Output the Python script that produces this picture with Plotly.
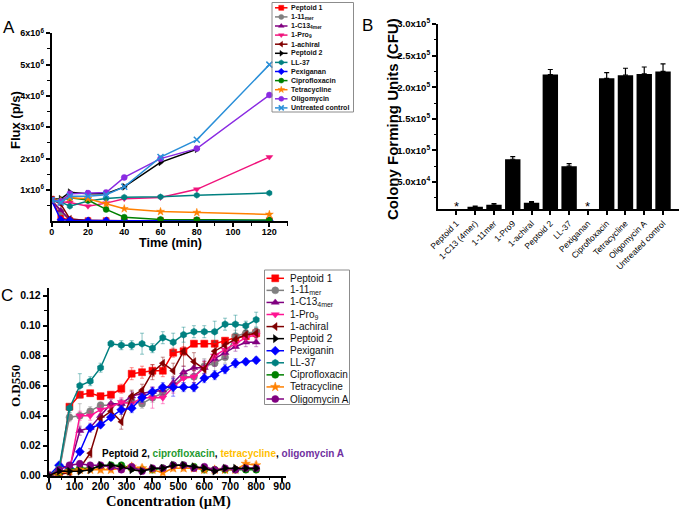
import plotly.graph_objects as go

W, H = 685, 515

# ---------------- Panel A data: bioluminescence flux (p/s) ----------------
time_min = [0, 5, 10, 20, 30, 40, 60, 80, 120]
flux_peptoid1 = [0.70e6, 0.12e6, 0.03e6, 0.02e6, 0.02e6, 0.02e6, 0.02e6, 0.02e6, 0.02e6]
flux_11mer = [0.68e6, 0.30e6, 0.04e6, 0.02e6, 0.02e6, 0.02e6, 0.02e6, 0.02e6, 0.02e6]
flux_c13 = [0.66e6, 0.35e6, 0.05e6, 0.02e6, 0.02e6, 0.02e6, 0.02e6, 0.02e6, 0.02e6]
flux_pro9 = [0.68e6, 0.62e6, 0.60e6, 0.48e6, 0.58e6, 0.72e6, 0.76e6, 1.02e6, 2.05e6]
flux_achiral = [0.70e6, 0.55e6, 0.08e6, 0.02e6, 0.02e6, 0.02e6, 0.02e6, 0.02e6, 0.02e6]
flux_peptoid2 = [0.70e6, 0.72e6, 0.93e6, 0.88e6, 0.88e6, 1.10e6, 1.88e6, 2.30e6, None]
flux_ll37 = [0.65e6, 0.62e6, 0.48e6, 0.65e6, 0.73e6, 0.77e6, 0.78e6, 0.83e6, 0.90e6]
flux_pexiganan = [0.66e6, 0.05e6, 0.03e6, 0.02e6, 0.02e6, 0.02e6, 0.02e6, 0.02e6, 0.02e6]
flux_cipro = [0.68e6, 0.65e6, 0.75e6, 0.68e6, 0.38e6, 0.13e6, 0.06e6, 0.05e6, 0.04e6]
flux_tetra = [0.68e6, 0.66e6, 0.75e6, 0.72e6, 0.56e6, 0.40e6, 0.31e6, 0.28e6, 0.22e6]
flux_oligo = [0.68e6, 0.64e6, 0.88e6, 0.90e6, 0.92e6, 1.40e6, 2.00e6, 2.32e6, 4.03e6]
flux_untreated = [0.68e6, 0.60e6, 0.80e6, 0.80e6, 0.85e6, 1.10e6, 2.05e6, 2.60e6, 5.00e6]
a_xticks = [0, 20, 40, 60, 80, 100, 120]
a_yticks = [1e6, 2e6, 3e6, 4e6, 5e6, 6e6]
a_yticktext = ["1x10<sup>6</sup>", "2x10<sup>6</sup>", "3x10<sup>6</sup>",
               "4x10<sup>6</sup>", "5x10<sup>6</sup>", "6x10<sup>6</sup>"]

# ---------------- Panel B data: colony forming units ----------------
cfu_labels = ["Peptoid 1", "1-C13 (4mer)", "1-11mer", "1-Pro9", "1-achiral", "Peptoid 2",
              "LL-37", "Pexiganan", "Ciprofloxacin", "Tetracycline", "Oligomycin A",
              "Untreated control"]
cfu_values = [0, 10900, 14000, 86000, 17000, 220000, 75000, 0, 214000, 219000, 221000, 225000]
cfu_err = [0, 1000, 2000, 4000, 2000, 8000, 4000, 0, 9000, 11000, 11000, 12000]
cfu_star = ["Peptoid 1", "Pexiganan"]
b_yticks = [5e4, 1e5, 1.5e5, 2e5, 2.5e5, 3e5]
b_yticktext = ["5.0x10<sup>4</sup>", "1.0x10<sup>5</sup>", "1.5x10<sup>5</sup>",
               "2.0x10<sup>5</sup>", "2.5x10<sup>5</sup>", "3.0x10<sup>5</sup>"]

# ---------------- Panel C data: O.D550 vs concentration ----------------
conc_uM = [0, 40, 80, 120, 160, 200, 240, 280, 320, 360, 400, 440, 480, 520, 560, 600, 640, 680, 720, 760, 800]
od_peptoid1 = [0, 0.002, 0.046, 0.054, 0.055, 0.053, 0.054, 0.058, 0.068, 0.069, 0.070, 0.070, 0.082, 0.083, 0.088, 0.088, 0.088, 0.090, 0.092, 0.093, 0.095]
od_11mer = [0, 0.003, 0.039, 0.040, 0.043, 0.047, 0.047, 0.048, 0.050, 0.048, 0.052, 0.055, 0.060, 0.066, 0.066, 0.073, 0.075, 0.079, 0.093, 0.095, 0.096]
od_c13 = [0, 0.002, 0.005, 0.030, 0.032, 0.040, 0.048, 0.048, 0.053, 0.055, 0.056, 0.057, 0.062, 0.069, 0.072, 0.072, 0.078, 0.082, 0.086, 0.089, 0.089]
od_pro9 = [0, 0.002, 0.003, 0.040, 0.040, 0.044, 0.046, 0.049, 0.048, 0.052, 0.052, 0.052, 0.059, 0.065, 0.066, 0.072, 0.080, 0.084, 0.088, 0.092, 0.094]
od_achiral = [0, 0.001, 0.002, 0.005, 0.015, 0.038, 0.043, 0.036, 0.053, 0.057, 0.069, 0.075, 0.070, 0.083, 0.076, 0.071, 0.083, 0.087, 0.091, 0.094, 0.095]
od_peptoid2 = [0, 0.003, 0.003, 0.003, 0.004, 0.007, 0.007, 0.006, 0.004, 0.003, 0.005, 0.005, 0.007, 0.007, 0.006, 0.005, 0.003, 0.005, 0.005, 0.005, 0.005]
od_pexiganin = [0, 0.007, 0.005, 0.016, 0.032, 0.034, 0.039, 0.044, 0.045, 0.052, 0.056, 0.059, 0.059, 0.059, 0.059, 0.065, 0.067, 0.071, 0.075, 0.076, 0.077]
od_ll37 = [0, 0.005, 0.045, 0.060, 0.063, 0.072, 0.088, 0.087, 0.087, 0.088, 0.085, 0.092, 0.089, 0.094, 0.096, 0.096, 0.096, 0.101, 0.101, 0.100, 0.104]
od_cipro = [0, 0.002, 0.004, 0.005, 0.005, 0.006, 0.007, 0.007, 0.005, 0.004, 0.004, 0.005, 0.007, 0.007, 0.006, 0.004, 0.004, 0.004, 0.004, 0.004, 0.004]
od_tetra = [0, 0.002, 0.003, 0.004, 0.004, 0.004, 0.004, 0.005, 0.006, 0.005, 0.004, 0.002, 0.005, 0.005, 0.005, 0.004, 0.004, 0.004, 0.004, 0.008, 0.007]
od_oligo = [0, 0.004, 0.007, 0.008, 0.007, 0.007, 0.006, 0.004, 0.006, 0.003, 0.005, 0.005, 0.007, 0.007, 0.005, 0.006, 0.004, 0.005, 0.004, 0.005, 0.005]

err_peptoid1 = [0, 0.001, 0.002, 0.002, 0.002, 0.002, 0.002, 0.003, 0.004, 0.004, 0.004, 0.004, 0.003, 0.003, 0.002, 0.002, 0.002, 0.002, 0.002, 0.002, 0.002]
err_11mer = [0, 0.001, 0.003, 0.008, 0.003, 0.002, 0.002, 0.003, 0.003, 0.003, 0.003, 0.004, 0.004, 0.004, 0.004, 0.005, 0.006, 0.004, 0.004, 0.003, 0.003]
err_c13 = [0, 0.001, 0.002, 0.003, 0.003, 0.003, 0.003, 0.003, 0.003, 0.003, 0.003, 0.003, 0.004, 0.004, 0.004, 0.005, 0.005, 0.004, 0.003, 0.003, 0.003]
err_pro9 = [0, 0.001, 0.002, 0.003, 0.003, 0.003, 0.003, 0.003, 0.003, 0.004, 0.007, 0.004, 0.004, 0.004, 0.004, 0.004, 0.004, 0.004, 0.003, 0.003, 0.003]
err_achiral = [0, 0.001, 0.002, 0.002, 0.003, 0.003, 0.004, 0.005, 0.004, 0.004, 0.005, 0.004, 0.005, 0.010, 0.006, 0.005, 0.004, 0.004, 0.003, 0.003, 0.003]
err_peptoid2 = [0, 0.001, 0.001, 0.001, 0.001, 0.001, 0.001, 0.001, 0.001, 0.001, 0.001, 0.001, 0.001, 0.001, 0.001, 0.001, 0.001, 0.001, 0.001, 0.001, 0.001]
err_pexiganin = [0, 0.001, 0.002, 0.002, 0.002, 0.002, 0.002, 0.003, 0.003, 0.003, 0.003, 0.003, 0.006, 0.003, 0.003, 0.003, 0.003, 0.003, 0.003, 0.002, 0.002]
err_ll37 = [0, 0.001, 0.003, 0.008, 0.003, 0.003, 0.002, 0.003, 0.003, 0.007, 0.003, 0.004, 0.006, 0.005, 0.004, 0.004, 0.007, 0.004, 0.006, 0.003, 0.005]
err_cipro = [0, 0.001, 0.001, 0.002, 0.002, 0.001, 0.001, 0.001, 0.001, 0.001, 0.001, 0.001, 0.001, 0.001, 0.001, 0.001, 0.001, 0.001, 0.001, 0.001, 0.001]
err_tetra = [0, 0.001, 0.001, 0.001, 0.001, 0.002, 0.002, 0.002, 0.002, 0.002, 0.002, 0.002, 0.002, 0.002, 0.002, 0.002, 0.001, 0.001, 0.002, 0.002, 0.002]
err_oligo = [0, 0.001, 0.001, 0.002, 0.001, 0.001, 0.001, 0.001, 0.001, 0.001, 0.001, 0.001, 0.001, 0.001, 0.001, 0.001, 0.001, 0.001, 0.001, 0.001, 0.001]
c_xticks = [0, 100, 200, 300, 400, 500, 600, 700, 800, 900]
c_yticks = [0, 0.02, 0.04, 0.06, 0.08, 0.10, 0.12]

# ---------------- styles ----------------
SANS = "Liberation Sans, Arial, sans-serif"
SERIF = "Liberation Serif, Times New Roman, serif"

a_series = [
    ("Peptoid 1", flux_peptoid1, "#ff0000", "square"),
    ("1-11<sub>mer</sub>", flux_11mer, "#808080", "circle"),
    ("1-C13<sub>4mer</sub>", flux_c13, "#800080", "triangle-up"),
    ("1-Pro<sub>9</sub>", flux_pro9, "#f0147c", "triangle-down"),
    ("1-achiral", flux_achiral, "#800000", "triangle-left"),
    ("Peptoid 2", flux_peptoid2, "#000000", "triangle-right"),
    ("LL-37", flux_ll37, "#008080", "hexagon"),
    ("Pexiganan", flux_pexiganan, "#0000ff", "diamond"),
    ("Ciprofloxacin", flux_cipro, "#008000", "circle"),
    ("Tetracycline", flux_tetra, "#ff8000", "star"),
    ("Oligomycin", flux_oligo, "#8a2be2", "circle"),
    ("Untreated control", flux_untreated, "#2a8fd8", "x-thin"),
]

c_series = [
    ("Peptoid 1", od_peptoid1, err_peptoid1, "#ff0000", "square"),
    ("1-11<sub>mer</sub>", od_11mer, err_11mer, "#808080", "circle"),
    ("1-C13<sub>4mer</sub>", od_c13, err_c13, "#800080", "triangle-up"),
    ("1-Pro<sub>9</sub>", od_pro9, err_pro9, "#ff1493", "triangle-down"),
    ("1-achiral", od_achiral, err_achiral, "#800000", "triangle-left"),
    ("Peptoid 2", od_peptoid2, err_peptoid2, "#000000", "triangle-right"),
    ("Pexiganin", od_pexiganin, err_pexiganin, "#0000ff", "diamond"),
    ("LL-37", od_ll37, err_ll37, "#008080", "hexagon"),
    ("Ciprofloxacin", od_cipro, err_cipro, "#008000", "circle"),
    ("Tetracycline", od_tetra, err_tetra, "#ff8000", "star"),
    ("Oligomycin A", od_oligo, err_oligo, "#800080", "circle"),
]


def rgba(hx, a):
    hx = hx.lstrip("#")
    return "rgba(%d,%d,%d,%g)" % (int(hx[0:2], 16), int(hx[2:4], 16), int(hx[4:6], 16), a)


def marker_style(color, symbol, size):
    if symbol == "x-thin":
        return dict(symbol=symbol, size=size, color=color, line=dict(color=color, width=1.5))
    return dict(symbol=symbol, size=size, color=color, line=dict(color=color, width=0.5))


fig = go.Figure()

# Panel A traces
for name, vals, color, sym in a_series:
    fig.add_trace(go.Scatter(x=time_min, y=vals, mode="lines+markers", xaxis="x", yaxis="y",
                             line=dict(color=color, width=1.5), marker=marker_style(color, sym, 6),
                             showlegend=False, connectgaps=False))

# Panel B bars
fig.add_trace(go.Bar(x=cfu_labels, y=cfu_values, xaxis="x2", yaxis="y2", width=0.82,
                     marker=dict(color="black", line=dict(width=0)),
                     error_y=dict(type="data", array=cfu_err, arrayminus=[0] * len(cfu_err),
                                  symmetric=False, color="black", thickness=1.2, width=2.5),
                     showlegend=False))
for lab in cfu_star:
    fig.add_annotation(x=lab, y=12000, xref="x2", yref="y2", text="*", showarrow=False,
                       font=dict(family=SANS, size=13, color="black"), yanchor="middle")

# Panel C traces (Peptoid 2 drawn last so it sits on top of the low cluster)
c_order = [s for s in c_series if s[0] != "Peptoid 2"] + [s for s in c_series if s[0] == "Peptoid 2"]
for name, vals, errs, color, sym in c_order:
    fig.add_trace(go.Scatter(x=conc_uM, y=vals, mode="lines+markers", xaxis="x3", yaxis="y3",
                             line=dict(color=color, width=1.5), marker=marker_style(color, sym, 7),
                             error_y=dict(type="data", array=errs, color=rgba(color, 0.45),
                                          thickness=1, width=2),
                             showlegend=False))

# ---------------- legends (drawn manually on a pixel helper axis) ----------------
def draw_legend(entries, x_line0, x_line1, x_text, y0, dy, msize, fsize, weight, box):
    for i, ent in enumerate(entries):
        name, color, sym = ent
        y = y0 + i * dy
        fig.add_trace(go.Scatter(x=[x_line0, x_line1], y=[y, y], mode="lines", xaxis="x4", yaxis="y4",
                                 line=dict(color=color, width=1.5), showlegend=False, hoverinfo="skip"))
        fig.add_trace(go.Scatter(x=[(x_line0 + x_line1) / 2], y=[y], mode="markers", xaxis="x4", yaxis="y4",
                                 marker=marker_style(color, sym, msize), showlegend=False, hoverinfo="skip"))
        fig.add_annotation(x=x_text, y=y, xref="x4", yref="y4", text=name, showarrow=False,
                           xanchor="left", yanchor="middle",
                           font=dict(family=SANS, size=fsize, color="#111", weight=weight))
    fig.add_shape(type="rect", xref="x4", yref="y4", x0=box[0], x1=box[1], y0=box[2], y1=box[3],
                  line=dict(color="#8c8c8c", width=1))


draw_legend([(n, c, s) for n, _, c, s in a_series], 275, 287.5, 288.5, 7.8, 9.1, 5, 7, "bold",
            (272, 353.5, 2.5, 112))
draw_legend([(n, c, s) for n, _, _, c, s in c_series], 266.5, 284, 287.5, 278.3, 12.07, 7, 10, "normal",
            (264.5, 349.5, 270, 404.5))

# ---------------- text annotations (pixel coords) ----------------
def ptext(x, y, text, size, family=SANS, weight="normal", angle=0, xanchor="center", color="black"):
    fig.add_annotation(x=x, y=y, xref="x4", yref="y4", text=text, showarrow=False, textangle=angle,
                       xanchor=xanchor, yanchor="middle",
                       font=dict(family=family, size=size, color=color, weight=weight))


ptext(9, 27, "A", 17)
ptext(367, 25, "B", 17)
ptext(7, 295, "C", 17)
ptext(15, 120, "Flux (p/s)", 13, weight="bold", angle=-90)
ptext(170, 243, "Time (min)", 12.5, weight="bold")
ptext(392, 119, "Colony Forming Units (CFU)", 15, weight="bold", angle=-90)
ptext(15, 386, "O.D550", 13, family=SERIF, weight="bold", angle=-90)
ptext(168, 501, "Concentration (µM)", 14.5, family=SERIF, weight="bold")
ptext(223, 453,
      '<span style="color:#000000">Peptoid 2,</span> '
      '<span style="color:#1f9a2f">ciprofloxacin</span>, '
      '<span style="color:#ffc000">tetracycline</span>, '
      '<span style="color:#7030a0">oligomycin A</span>',
      10, family="Liberation Sans Narrow, Liberation Sans, Arial", weight="bold")

# ---------------- axes ----------------
axis_common = dict(showline=True, linecolor="black", linewidth=2, ticks="outside", ticklen=4,
                   tickwidth=1.5, tickcolor="black", showgrid=False, zeroline=False,
                   automargin=False, fixedrange=True)


def ax(**kw):
    d = dict(axis_common)
    d.update(kw)
    return d


fig.update_layout(
    width=W, height=H, margin=dict(l=0, r=0, t=0, b=0), template="none",
    paper_bgcolor="white", plot_bgcolor="rgba(0,0,0,0)",
    font=dict(family=SANS, color="black"), showlegend=False,
    xaxis=ax(domain=[51.7 / W, 287.5 / W], range=[0, 130], anchor="y", tickvals=a_xticks,
             tickfont=dict(size=9, weight="bold"), ticklabelstandoff=-3,
             minor=dict(tickvals=[10, 30, 50, 70, 90, 110, 130], ticklen=2.5, tickwidth=1.2,
                        tickcolor="black", ticks="outside", showgrid=False)),
    yaxis=ax(domain=[1 - 221.3 / H, 1 - 33.3 / H], range=[0, 6e6], anchor="x", tickvals=a_yticks,
             ticktext=a_yticktext, tickfont=dict(size=9, weight="bold"),
             minor=dict(tickvals=[0.5e6, 1.5e6, 2.5e6, 3.5e6, 4.5e6, 5.5e6], ticklen=2.5, tickwidth=1.2,
                        tickcolor="black", ticks="outside", showgrid=False)),
    xaxis2=ax(domain=[438 / W, 679 / W], type="category", range=[-0.98, 11.85], anchor="y2",
              tickangle=-45, tickfont=dict(size=8.5), ticklen=4),
    yaxis2=ax(domain=[1 - 209.3 / H, 1 - 24 / H], range=[6800, 3e5], anchor="x2", tickvals=b_yticks,
              ticktext=b_yticktext, tickfont=dict(size=9.5, weight="bold"),
              minor=dict(tickvals=[2.5e4, 7.5e4, 1.25e5, 1.75e5, 2.25e5, 2.75e5], ticklen=2.5, tickwidth=1.2,
                         tickcolor="black", ticks="outside", showgrid=False)),
    xaxis3=ax(domain=[48.7 / W, 286 / W], range=[0, 915], anchor="y3", tickvals=c_xticks,
              tickfont=dict(size=10.5, weight="bold"), ticklabelstandoff=-4,
              minor=dict(tickvals=[50, 150, 250, 350, 450, 550, 650, 750, 850], ticklen=2.5, tickwidth=1.2,
                         tickcolor="black", ticks="outside", showgrid=False)),
    yaxis3=ax(domain=[1 - 475.7 / H, 1 - 288.2 / H], range=[0, 0.125], anchor="x3", tickvals=c_yticks,
              tickformat=".2f", tickfont=dict(size=10.5, weight="bold"),
              minor=dict(tickvals=[0.01, 0.03, 0.05, 0.07, 0.09, 0.11], ticklen=2.5, tickwidth=1.2,
                         tickcolor="black", ticks="outside", showgrid=False)),
    xaxis4=dict(domain=[0, 1], range=[0, W], visible=False, anchor="y4", fixedrange=True),
    yaxis4=dict(domain=[0, 1], range=[H, 0], visible=False, anchor="x4", fixedrange=True),
)

fig.write_html("out.html", config={"displayModeBar": False},
               post_script="document.body.style.margin='0';document.body.style.padding='0';")
